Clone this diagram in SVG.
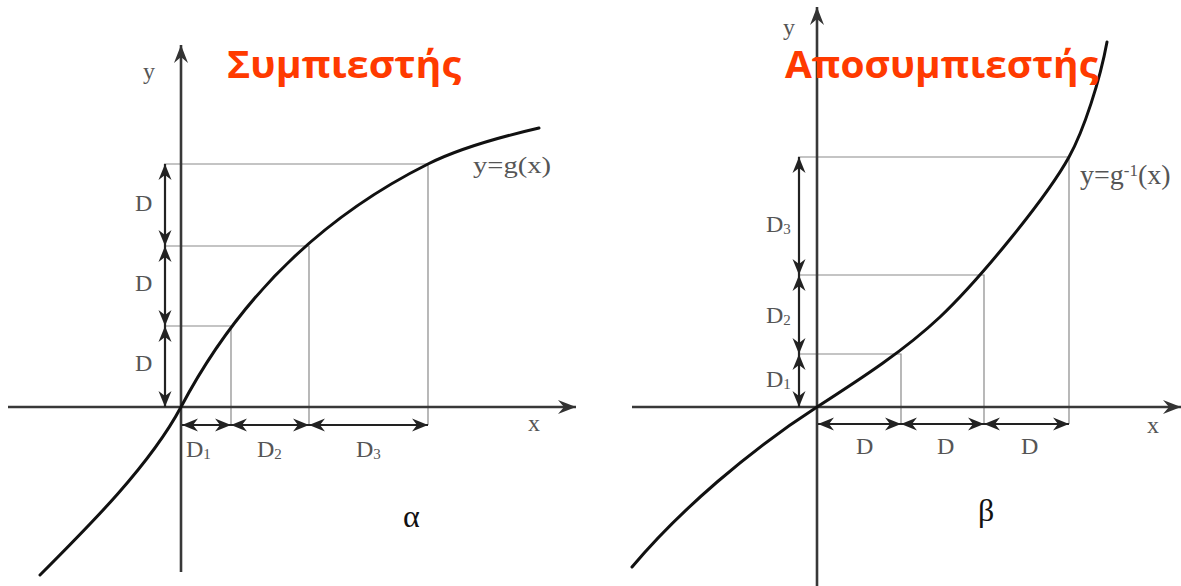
<svg xmlns="http://www.w3.org/2000/svg" width="1181" height="586" viewBox="0 0 1181 586">
  <defs>
    <marker id="ah" viewBox="-17 -8 18 16" refX="0" refY="0" markerWidth="18" markerHeight="16" markerUnits="userSpaceOnUse" orient="auto-start-reverse">
      <path d="M0,0 L-16,-6.5 L-11,0 L-16,6.5 Z" fill="#222"/>
    </marker>
    <marker id="axh" viewBox="-19 -9 20 18" refX="0" refY="0" markerWidth="20" markerHeight="18" markerUnits="userSpaceOnUse" orient="auto">
      <path d="M0,0 L-18,-7 L-12,0 L-18,7 Z" fill="#333"/>
    </marker>
  </defs>
  <style>
    .axis { stroke: #383838; stroke-width: 2.6; fill: none; }
    .guide { stroke: #8a8a8a; stroke-width: 1.2; fill: none; }
    .dim { stroke: #222; stroke-width: 2.2; fill: none; marker-start: url(#ah); marker-end: url(#ah); }
    .curve { stroke: #111; stroke-width: 3; fill: none; stroke-linecap: round; }
    .lbl { font-family: "Liberation Serif", "DejaVu Serif", serif; font-size: 24px; fill: #555; }
    .sub { font-size: 15px; }
    .big { font-family: "Liberation Serif", "DejaVu Serif", serif; font-size: 32px; fill: #111; }
    .title { font-family: "Open Sans", "Noto Sans", sans-serif; font-weight: bold; font-size: 37px; fill: #FF3A00; }
  </style>
  <rect width="1181" height="586" fill="#fff"/>

  <!-- Left plot: compressor -->
  <g id="plot-a">
    <g id="guides-a">
      <path class="guide" d="M164,164 H428 V425 M164,246 H309 V425 M164,326 H231 V425"/>
    </g>
    <g id="axes-a">
      <line class="axis" x1="8" y1="407" x2="576" y2="407" marker-end="url(#axh)"/>
      <line class="axis" x1="181" y1="572" x2="181" y2="45" marker-end="url(#axh)"/>
      <text class="lbl" x="143" y="79">y</text>
      <text class="lbl" x="528" y="431">x</text>
    </g>
    <g id="curve-a">
      <path class="curve" d="M40,575 C90,525 150,465 181,407 C238,299 320,218 428,164 C458,149 500,137 539,128"/>
      <text class="lbl" x="473" y="173" textLength="78" lengthAdjust="spacingAndGlyphs">y=g(x)</text>
    </g>
    <g id="connectors-a">
      <line class="dim" x1="165" y1="164" x2="165" y2="246"/>
      <line class="dim" x1="165" y1="246" x2="165" y2="326"/>
      <line class="dim" x1="165" y1="326" x2="165" y2="407"/>
      <line class="dim" x1="182" y1="425" x2="231" y2="425"/>
      <line class="dim" x1="231" y1="425" x2="309" y2="425"/>
      <line class="dim" x1="309" y1="425" x2="428" y2="425"/>
    </g>
    <g id="labels-a">
      <text class="lbl" x="135" y="211">D</text>
      <text class="lbl" x="135" y="291">D</text>
      <text class="lbl" x="135" y="371">D</text>
      <text class="lbl" x="186" y="457">D<tspan class="sub" dy="2">1</tspan></text>
      <text class="lbl" x="257" y="457">D<tspan class="sub" dy="2">2</tspan></text>
      <text class="lbl" x="356" y="457">D<tspan class="sub" dy="2">3</tspan></text>
      <text class="big" x="403" y="527">α</text>
    </g>
  </g>

  <!-- Right plot: expander -->
  <g id="plot-b">
    <g id="guides-b">
      <path class="guide" d="M798,157 H1069 V424 M798,275 H984 V424 M798,354 H901 V424"/>
    </g>
    <g id="axes-b">
      <line class="axis" x1="632" y1="407" x2="1181" y2="407" marker-end="url(#axh)"/>
      <line class="axis" x1="817" y1="586" x2="817" y2="7" marker-end="url(#axh)"/>
      <text class="lbl" x="783" y="35">y</text>
      <text class="lbl" x="1147" y="433">x</text>
    </g>
    <g id="curve-b">
      <path class="curve" d="M632,567 C680,510 750,450 817,407 C862,378 905,350 940,317 C980,279 1047,197 1069,157 C1084,130 1100,80 1107,42"/>
      <text class="lbl" x="1080" y="184" style="font-size:28px">y=g<tspan style="font-size:17px" dy="-8">-1</tspan><tspan dy="8">(x)</tspan></text>
    </g>
    <g id="connectors-b">
      <line class="dim" x1="799" y1="157" x2="799" y2="275"/>
      <line class="dim" x1="799" y1="275" x2="799" y2="354"/>
      <line class="dim" x1="799" y1="354" x2="799" y2="407"/>
      <line class="dim" x1="818" y1="424" x2="901" y2="424"/>
      <line class="dim" x1="901" y1="424" x2="984" y2="424"/>
      <line class="dim" x1="984" y1="424" x2="1069" y2="424"/>
    </g>
    <g id="labels-b">
      <text class="lbl" x="766" y="232">D<tspan class="sub" dy="2">3</tspan></text>
      <text class="lbl" x="766" y="323">D<tspan class="sub" dy="2">2</tspan></text>
      <text class="lbl" x="766" y="387">D<tspan class="sub" dy="2">1</tspan></text>
      <text class="lbl" x="856" y="454">D</text>
      <text class="lbl" x="937" y="454">D</text>
      <text class="lbl" x="1021" y="454">D</text>
      <text class="big" x="978" y="521">β</text>
    </g>
  </g>

  <g id="titles">
    <text class="title" x="227" y="78" textLength="234" lengthAdjust="spacingAndGlyphs">Συμπιεστής</text>
    <text class="title" x="785" y="78" textLength="313" lengthAdjust="spacingAndGlyphs">Αποσυμπιεστής</text>
  </g>
</svg>
